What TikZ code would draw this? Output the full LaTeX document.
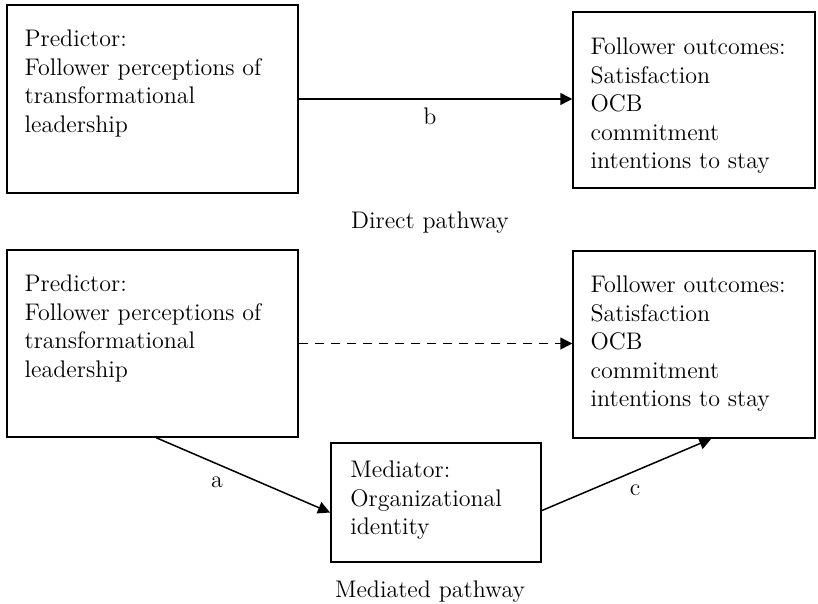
\documentclass[tikz,border=0pt]{standalone}
\usetikzlibrary{arrows.meta}
\begin{document}
\begin{tikzpicture}[x=0.5pt,y=-0.5pt,
    box/.style={draw,line width=0.75pt,inner sep=0pt},
    txt/.style={inner sep=0pt,align=left,anchor=north west,font=\fontsize{12}{14.25}\selectfont},
    lbl/.style={inner sep=0pt,anchor=base,font=\fontsize{12}{14.25}\selectfont},
    arr/.style={line width=0.75pt,-{Triangle[length=6pt,width=6pt]}}]
    \useasboundingbox (0,0) rectangle (818,604);
    % direct pathway
    \node[box,minimum width=145.5pt,minimum height=94pt] (b1) at (152.5,99) {};
    \node[box,minimum width=121pt,minimum height=88pt] (b2) at (694,100) {};
    \node[txt] (t1) at ([xshift=9pt,yshift=-12.8pt]b1.north west) {Predictor:\\Follower perceptions of\\transformational\\leadership};
    \node[txt] (t2) at ([xshift=9pt,yshift=-13.3pt]b2.north west) {Follower outcomes:\\Satisfaction\\OCB\\commitment\\intentions to stay};
    \draw[arr] (b1.east) -- (b1.east -| b2.west);
    \node[lbl] (lb) at (430,125) {b};
    \node[lbl] (ld) at (430,228) {Direct pathway};
    % mediated pathway
    \node[box,minimum width=145.5pt,minimum height=93.5pt] (b3) at (152.5,343.5) {};
    \node[box,minimum width=121pt,minimum height=93.5pt] (b4) at (694,344.5) {};
    \node[box,line width=1pt,minimum width=105pt,minimum height=59.5pt] (med) at (436,502.5) {};
    \node[txt] (t3) at ([xshift=9pt,yshift=-12.8pt]b3.north west) {Predictor:\\Follower perceptions of\\transformational\\leadership};
    \node[txt] (t4) at ([xshift=9pt,yshift=-12.8pt]b4.north west) {Follower outcomes:\\Satisfaction\\OCB\\commitment\\intentions to stay};
    \node[txt] (tm) at ([xshift=10pt,yshift=-9.3pt]med.north west) {Mediator:\\Organizational\\identity};
    \draw[arr,dash pattern=on 4.5pt off 3.5pt] (b3.east) -- (b3.east -| b4.west);
    \draw[arr] ([xshift=75pt]b3.south west) -- ([yshift=-5pt]med.west);
    \draw[arr] ([yshift=-4pt]med.east) -- ([xshift=69.5pt]b4.south west);
    \node[lbl] (la) at (217,487) {a};
    \node[lbl] (lc) at (635,495) {c};
    \node[lbl] (lm) at (430,597) {Mediated pathway};
\end{tikzpicture}
\end{document}
